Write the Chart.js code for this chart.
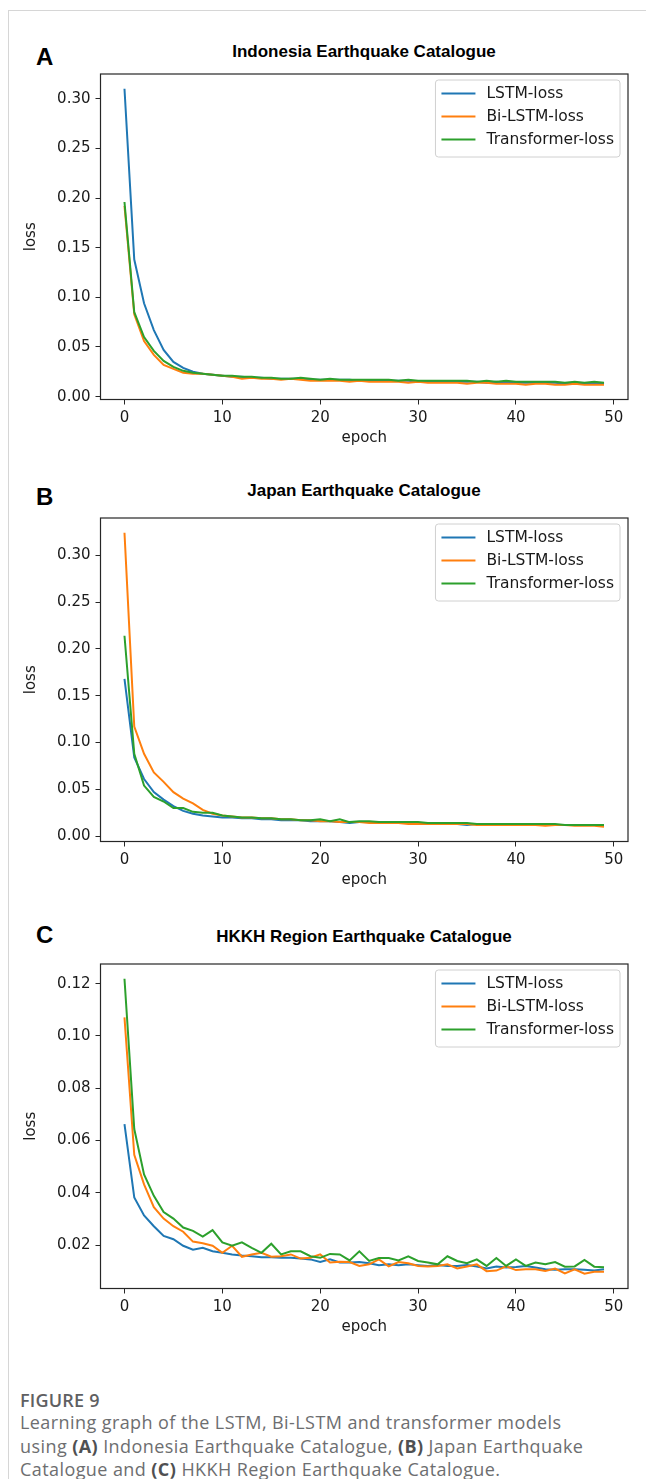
<!DOCTYPE html>
<html>
<head>
<meta charset="utf-8">
<title>Learning graph</title>
<script src="https://cdn.jsdelivr.net/npm/chart.js@4.4.1/dist/chart.umd.min.js"></script>
<style>
  html, body { margin: 0; padding: 0; background: #fff; }
  body { position: relative; width: 646px; height: 1479px; overflow: hidden; font-family: "DejaVu Sans", sans-serif; }
  .frame { position: absolute; left: 8px; top: 10px; width: 660px; height: 1500px; border-left: 1px solid #d6d6d6; border-top: 1px solid #d6d6d6; }
  .letter { position: absolute; left: 36px; font: bold 24px "Liberation Sans", Arial, sans-serif; color: #000; line-height: 24px; }
  .title { position: absolute; left: 100px; width: 528px; text-align: center; font: bold 17px "Liberation Sans", Arial, sans-serif; color: #000; line-height: 19px; }
  canvas { position: absolute; left: 0; }
  .caption { position: absolute; left: 20px; top: 1389px; width: 620px; font-family: "Open Sans", sans-serif; font-size: 18px; letter-spacing: 0.42px; color: #6d6e70; white-space: nowrap; }
  .caption .fig { font-weight: 600; color: #5f6062; line-height: 22px; letter-spacing: 0.2px; }
  .caption p { margin: 0; line-height: 23.5px; }
  .caption b { color: #4f5052; font-weight: 700; }
</style>
</head>
<body>
<div class="frame"></div>

<div class="letter" style="top:45px">A</div>
<div class="title" style="top:42px">Indonesia Earthquake Catalogue</div>
<canvas id="chartA" width="646" height="387" style="top:60px"></canvas>

<div class="letter" style="top:485px">B</div>
<div class="title" style="top:481px">Japan Earthquake Catalogue</div>
<canvas id="chartB" width="646" height="385" style="top:504px"></canvas>

<div class="letter" style="top:923px">C</div>
<div class="title" style="top:927px">HKKH Region Earthquake Catalogue</div>
<canvas id="chartC" width="646" height="386" style="top:950px"></canvas>

<div class="caption">
  <div class="fig">FIGURE 9</div>
  <p>Learning graph of the LSTM, Bi-LSTM and transformer models<br>using <b>(A)</b> Indonesia Earthquake Catalogue, <b>(B)</b> Japan Earthquake<br>Catalogue and <b>(C)</b> HKKH Region Earthquake Catalogue.</p>
</div>

<script>
// epochs on the x axis
const epochs = [0, 1, 2, 3, 4, 5, 6, 7, 8, 9, 10, 11, 12, 13, 14, 15, 16, 17, 18, 19,
  20, 21, 22, 23, 24, 25, 26, 27, 28, 29, 30, 31, 32, 33, 34, 35, 36, 37, 38, 39,
  40, 41, 42, 43, 44, 45, 46, 47, 48, 49];
const seriesNames = ['LSTM-loss', 'Bi-LSTM-loss', 'Transformer-loss'];
const seriesColors = ['#1f77b4', '#ff7f0e', '#2ca02c'];
const xTicks = [0, 10, 20, 30, 40, 50];

// (A) Indonesia
const lstmA = [0.310, 0.138, 0.094, 0.067, 0.047, 0.035, 0.029, 0.025, 0.023, 0.022,
  0.021, 0.020, 0.020, 0.019, 0.019, 0.018, 0.018, 0.018, 0.018, 0.017,
  0.017, 0.017, 0.017, 0.017, 0.016, 0.016, 0.016, 0.016, 0.016, 0.016,
  0.015, 0.015, 0.015, 0.015, 0.015, 0.015, 0.015, 0.014, 0.015, 0.014,
  0.014, 0.014, 0.014, 0.014, 0.014, 0.013, 0.014, 0.013, 0.014, 0.013];
const bilstmA = [0.192, 0.083, 0.056, 0.042, 0.032, 0.028, 0.024, 0.023, 0.023, 0.022,
  0.021, 0.020, 0.018, 0.019, 0.018, 0.018, 0.017, 0.018, 0.017, 0.016,
  0.016, 0.016, 0.016, 0.015, 0.016, 0.015, 0.015, 0.015, 0.015, 0.014,
  0.015, 0.014, 0.014, 0.014, 0.014, 0.013, 0.014, 0.014, 0.013, 0.013,
  0.013, 0.012, 0.013, 0.013, 0.012, 0.012, 0.013, 0.012, 0.012, 0.012];
const transA = [0.196, 0.085, 0.060, 0.046, 0.036, 0.030, 0.026, 0.024, 0.023, 0.022,
  0.021, 0.021, 0.020, 0.020, 0.019, 0.019, 0.018, 0.018, 0.019, 0.018,
  0.017, 0.018, 0.017, 0.017, 0.017, 0.017, 0.017, 0.017, 0.016, 0.017,
  0.016, 0.016, 0.016, 0.016, 0.016, 0.016, 0.015, 0.016, 0.015, 0.016,
  0.015, 0.015, 0.015, 0.015, 0.015, 0.014, 0.015, 0.014, 0.015, 0.014];
const yTicksA = [0.00, 0.05, 0.10, 0.15, 0.20, 0.25, 0.30];

// (B) Japan
const lstmB = [0.168, 0.084, 0.061, 0.047, 0.039, 0.032, 0.027, 0.024, 0.022, 0.021,
  0.020, 0.020, 0.019, 0.019, 0.018, 0.018, 0.017, 0.017, 0.017, 0.016,
  0.016, 0.016, 0.015, 0.014, 0.015, 0.015, 0.014, 0.014, 0.014, 0.014,
  0.014, 0.014, 0.013, 0.013, 0.013, 0.012, 0.013, 0.013, 0.013, 0.013,
  0.013, 0.012, 0.012, 0.012, 0.012, 0.012, 0.012, 0.012, 0.012, 0.011];
const bilstmB = [0.324, 0.117, 0.088, 0.068, 0.058, 0.047, 0.040, 0.035, 0.028, 0.024,
  0.022, 0.021, 0.020, 0.020, 0.019, 0.019, 0.018, 0.018, 0.017, 0.017,
  0.016, 0.016, 0.015, 0.015, 0.015, 0.014, 0.014, 0.014, 0.014, 0.013,
  0.013, 0.013, 0.013, 0.013, 0.013, 0.013, 0.012, 0.012, 0.012, 0.012,
  0.012, 0.012, 0.012, 0.011, 0.012, 0.012, 0.011, 0.011, 0.011, 0.010];
const transB = [0.214, 0.088, 0.054, 0.042, 0.037, 0.030, 0.030, 0.026, 0.025, 0.025,
  0.022, 0.021, 0.020, 0.020, 0.019, 0.019, 0.018, 0.018, 0.017, 0.017,
  0.018, 0.016, 0.018, 0.015, 0.016, 0.016, 0.015, 0.015, 0.015, 0.015,
  0.015, 0.014, 0.014, 0.014, 0.014, 0.014, 0.013, 0.013, 0.013, 0.013,
  0.013, 0.013, 0.013, 0.013, 0.013, 0.012, 0.012, 0.012, 0.012, 0.012];
const yTicksB = [0.00, 0.05, 0.10, 0.15, 0.20, 0.25, 0.30];

// (C) HKKH region
const lstmC = [0.0663, 0.0382, 0.0313, 0.0272, 0.0235, 0.0222, 0.0197, 0.0182, 0.0189, 0.0176,
  0.0170, 0.0164, 0.0160, 0.0157, 0.0153, 0.0153, 0.0151, 0.0151, 0.0148, 0.0145,
  0.0135, 0.0145, 0.0133, 0.0133, 0.0135, 0.0130, 0.0123, 0.0126, 0.0123, 0.0126,
  0.0123, 0.0120, 0.0123, 0.0120, 0.0120, 0.0123, 0.0118, 0.0110, 0.0118, 0.0114,
  0.0116, 0.0120, 0.0114, 0.0107, 0.0105, 0.0107, 0.0107, 0.0105, 0.0102, 0.0107];
const bilstmC = [0.1071, 0.0545, 0.0432, 0.0345, 0.0301, 0.0272, 0.0251, 0.0213, 0.0207, 0.0197,
  0.0170, 0.0197, 0.0155, 0.0164, 0.0170, 0.0155, 0.0157, 0.0164, 0.0148, 0.0151,
  0.0164, 0.0133, 0.0136, 0.0135, 0.0120, 0.0126, 0.0145, 0.0118, 0.0135, 0.0130,
  0.0120, 0.0118, 0.0120, 0.0126, 0.0110, 0.0118, 0.0126, 0.0100, 0.0102, 0.0118,
  0.0104, 0.0107, 0.0107, 0.0101, 0.0110, 0.0091, 0.0107, 0.0090, 0.0098, 0.0098];
const transC = [0.1219, 0.0644, 0.0470, 0.0388, 0.0326, 0.0301, 0.0267, 0.0254, 0.0232, 0.0257,
  0.0210, 0.0197, 0.0210, 0.0189, 0.0170, 0.0205, 0.0164, 0.0176, 0.0176, 0.0157,
  0.0151, 0.0166, 0.0164, 0.0141, 0.0176, 0.0139, 0.0150, 0.0150, 0.0141, 0.0157,
  0.0139, 0.0133, 0.0126, 0.0157, 0.0139, 0.0130, 0.0145, 0.0120, 0.0150, 0.0120,
  0.0145, 0.0120, 0.0133, 0.0126, 0.0135, 0.0117, 0.0118, 0.0143, 0.0117, 0.0115];
const yTicksC = [0.02, 0.04, 0.06, 0.08, 0.10, 0.12];

const tickFont = { family: 'DejaVu Sans', size: 15 };
const inkColor = '#1a1a1a';

// axis box on all four sides plus a matplotlib-style legend in the top right
const mplFrame = {
  id: 'mplFrame',
  afterDraw(chart) {
    const { ctx, chartArea: a } = chart;
    ctx.save();
    ctx.strokeStyle = '#262626';
    ctx.lineWidth = 1.2;
    ctx.strokeRect(a.left, a.top, a.right - a.left, a.bottom - a.top);

    // legend
    ctx.font = '15.5px "DejaVu Sans"';
    const sets = chart.data.datasets;
    const textW = Math.max(...sets.map(d => ctx.measureText(d.label).width));
    const w = 51 + textW + 6;
    const rowH = 23;
    const h = 11 + rowH * sets.length - 7 + 4;
    const x0 = a.right - 8 - w;
    const y0 = a.top + 6;
    ctx.beginPath();
    ctx.roundRect(x0, y0, w, h, 3);
    ctx.fillStyle = 'rgba(255,255,255,0.8)';
    ctx.fill();
    ctx.strokeStyle = '#d0d0d0';
    ctx.lineWidth = 1;
    ctx.stroke();
    ctx.textBaseline = 'middle';
    sets.forEach((d, i) => {
      const cy = y0 + 13.5 + i * rowH;
      ctx.strokeStyle = d.borderColor;
      ctx.lineWidth = 2;
      ctx.beginPath();
      ctx.moveTo(x0 + 6, cy);
      ctx.lineTo(x0 + 40, cy);
      ctx.stroke();
      ctx.fillStyle = inkColor;
      ctx.fillText(d.label, x0 + 51, cy + 0.5);
    });
    ctx.restore();
  }
};

// matplotlib pads the data range by 5% on each side
function padded(values, frac) {
  const lo = Math.min(...values), hi = Math.max(...values);
  const m = (hi - lo) * frac;
  return { min: lo - m, max: hi + m };
}

function drawPanel(canvasId, series, yTicks, padTop) {
  const yr = padded(series.flat(), 0.05);
  return new Chart(document.getElementById(canvasId), {
    type: 'line',
    data: {
      labels: epochs,
      datasets: series.map((vals, i) => ({
        label: seriesNames[i],
        data: vals,
        borderColor: seriesColors[i],
        backgroundColor: seriesColors[i],
        borderWidth: 2,
        pointRadius: 0,
        tension: 0,
        fill: false,
        order: series.length - i
      }))
    },
    options: {
      responsive: false,
      animation: false,
      devicePixelRatio: 1,
      layout: { padding: { top: padTop, right: 18, left: 0, bottom: 0 } },
      plugins: { legend: { display: false }, tooltip: { enabled: false } },
      scales: {
        x: {
          type: 'linear',
          min: -2.45,
          max: 51.45,
          afterBuildTicks: s => { s.ticks = xTicks.map(v => ({ value: v })); },
          afterFit: s => { s.height = 47.5; },
          grid: { drawOnChartArea: false, drawTicks: true, tickLength: 5, color: '#262626', lineWidth: 1 },
          border: { display: false },
          ticks: { font: tickFont, color: inkColor, padding: 5, maxRotation: 0 },
          title: { display: true, text: 'epoch', font: tickFont, color: inkColor, padding: { top: 0, bottom: 0 } }
        },
        y: {
          type: 'linear',
          min: yr.min,
          max: yr.max,
          afterBuildTicks: s => { s.ticks = yTicks.map(v => ({ value: v })); },
          afterFit: s => { s.width = 100.5; },
          grid: { drawOnChartArea: false, drawTicks: true, tickLength: 5, color: '#262626', lineWidth: 1 },
          border: { display: false },
          ticks: { font: tickFont, color: inkColor, padding: 5, callback: v => v.toFixed(2) },
          title: { display: true, text: 'loss', font: tickFont, color: inkColor, padding: { top: 22, bottom: 0 } }
        }
      }
    },
    plugins: [mplFrame]
  });
}

drawPanel('chartA', [lstmA, bilstmA, transA], yTicksA, 9);
drawPanel('chartB', [lstmB, bilstmB, transB], yTicksB, 9);
drawPanel('chartC', [lstmC, bilstmC, transC], yTicksC, 9.5);
</script>
</body>
</html>
